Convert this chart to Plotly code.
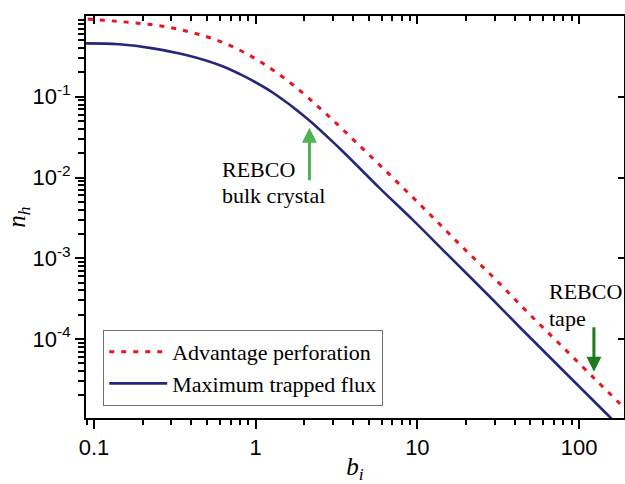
import plotly.graph_objects as go
import math

# ---- data ----
b_max_flux = [0.0893, 0.143, 0.231, 0.371, 0.594, 0.799, 0.957, 1.28, 2.06, 3.31,
              5.86, 9.40, 15.1, 29.4, 43.0, 154.5, 190]
n_max_flux = [0.458, 0.446, 0.397, 0.328, 0.247, 0.1905, 0.158, 0.112, 0.0547, 0.0229,
              0.00735, 0.00297, 0.00115, 3.04e-4, 1.40e-4, 1.09e-5, 7.2e-6]

b_adv_perf = [0.0914, 0.150, 0.244, 0.394, 0.639, 1.036, 1.68, 2.72, 4.40, 7.18,
              11.6, 18.7, 30.4, 48.3, 79.6, 129, 178, 190]
n_adv_perf = [0.916, 0.848, 0.766, 0.632, 0.463, 0.282, 0.143, 0.0616, 0.0247, 0.00957,
              0.00371, 0.00142, 5.48e-4, 2.12e-4, 7.89e-5, 3.02e-5, 1.60e-5, 1.40e-5]

x_tickvals = [0.1, 1, 10, 100]
x_ticktext = ["0.1", "1", "10", "100"]
y_tickvals = [1e-4, 1e-3, 1e-2, 1e-1]
y_ticktext = ["10<sup>-4</sup>", "10<sup>-3</sup>", "10<sup>-2</sup>", "10<sup>-1</sup>"]

# annotation anchors (b, n)
bulk_arrow = (2.15, 0.0413)
tape_arrow = (123.6, 3.94e-5)
bulk_lines = [("REBCO", 0.610, 0.0127), ("bulk crystal", 0.610, 0.00598)]
tape_lines = [("REBCO", 64.0, 3.93e-4), ("tape", 64.0, 1.82e-4)]

x_range = [math.log10(0.0892), math.log10(189.7)]
y_range = [-4.978, 0.0]

x_minor = [m * 10 ** e for e in range(-2, 3) for m in range(2, 10)]
y_minor = [m * 10 ** e for e in range(-6, 1) for m in range(2, 10)]

RED = "#e8151f"
BLUE = "#27277a"
SERIF = "Liberation Serif, Times New Roman, serif"
SANS = "Liberation Sans, Arial, sans-serif"

fig = go.Figure()
fig.add_trace(go.Scatter(x=b_adv_perf, y=n_adv_perf, mode="lines",
                         name="Advantage perforation",
                         line=dict(color=RED, width=3, dash="5px,7px", shape="spline")))
fig.add_trace(go.Scatter(x=b_max_flux, y=n_max_flux, mode="lines",
                         name="Maximum trapped flux",
                         line=dict(color=BLUE, width=2.6, shape="spline")))
# helper (invisible) trace to carry the mirrored top/right axes
fig.add_trace(go.Scatter(x=b_max_flux, y=n_max_flux, xaxis="x2", yaxis="y2", mode="lines",
                         line=dict(color="rgba(0,0,0,0)"), showlegend=False, hoverinfo="skip"))

tickfont = dict(family=SANS, size=22, color="black")
fig.update_layout(
    width=625, height=484,
    margin=dict(l=86, r=1, t=16, b=66),
    paper_bgcolor="white", plot_bgcolor="white",
    showlegend=True,
    legend=dict(x=0.032, y=0.03, xanchor="left", yanchor="bottom",
                bordercolor="#707070", borderwidth=1, bgcolor="white",
                font=dict(family=SERIF, size=22, color="black"),
                tracegroupgap=0, itemwidth=58),
    xaxis=dict(type="log", range=x_range, tickmode="array", tickvals=x_tickvals,
               ticktext=x_ticktext, ticks="outside", ticklen=9, tickwidth=2,
               tickcolor="black", showline=True, linewidth=2, linecolor="black",
               showgrid=False, zeroline=False, tickfont=tickfont, automargin=False,
               minor=dict(tickmode="array", tickvals=x_minor, ticks="outside",
                          ticklen=5, tickwidth=1.5, tickcolor="black", showgrid=False),
               title=dict(text="<i>b</i><sub><i>i</i></sub>",
                          font=dict(family=SERIF, size=25, color="black"), standoff=2)),
    yaxis=dict(type="log", range=y_range, tickmode="array", tickvals=y_tickvals,
               ticktext=y_ticktext, ticks="outside", ticklen=9, tickwidth=2,
               tickcolor="black", showline=True, linewidth=2, linecolor="black",
               showgrid=False, zeroline=False, tickfont=tickfont, automargin=False,
               minor=dict(tickmode="array", tickvals=y_minor, ticks="outside",
                          ticklen=6, tickwidth=1.5, tickcolor="black", showgrid=False),
               title=dict(text="<i>n</i><sub><i>h</i></sub>",
                          font=dict(family=SERIF, size=25, color="black"), standoff=0)),
    xaxis2=dict(type="log", range=x_range, overlaying="x", side="top", anchor="y",
                tickmode="array", tickvals=x_tickvals, showticklabels=False,
                ticks="inside", ticklen=8, tickwidth=2, tickcolor="black",
                showline=True, linewidth=2, linecolor="black", showgrid=False,
                zeroline=False, automargin=False,
                minor=dict(tickmode="array", tickvals=x_minor, ticks="inside",
                           ticklen=5, tickwidth=1.5, tickcolor="black", showgrid=False)),
    yaxis2=dict(type="log", range=y_range, overlaying="y", side="right", anchor="x",
                tickmode="array", tickvals=y_tickvals, showticklabels=False,
                ticks="inside", ticklen=6, tickwidth=2, tickcolor="black",
                showline=True, linewidth=2, linecolor="black", showgrid=False,
                zeroline=False, automargin=False),
)

fig.add_annotation(x=math.log10(bulk_arrow[0]), y=math.log10(bulk_arrow[1]), xref="x", yref="y",
                   text="", showarrow=True, ax=0, ay=54, arrowhead=2, arrowsize=1,
                   arrowwidth=3, arrowcolor="#52b152")
fig.add_annotation(x=math.log10(tape_arrow[0]), y=math.log10(tape_arrow[1]), xref="x", yref="y",
                   text="", showarrow=True, ax=0, ay=-46, arrowhead=2, arrowsize=1,
                   arrowwidth=3, arrowcolor="#1f7a1f")
for txt, bx, ny in bulk_lines + tape_lines:
    fig.add_annotation(x=math.log10(bx), y=math.log10(ny), xref="x", yref="y",
                       text=txt, showarrow=False, xanchor="left", yanchor="middle",
                       align="left", borderpad=0,
                       font=dict(family=SERIF, size=22, color="black"))

fig.write_html("out.html", config={"displayModeBar": False},
               post_script="document.body.style.margin='0';document.body.style.overflow='hidden';")
